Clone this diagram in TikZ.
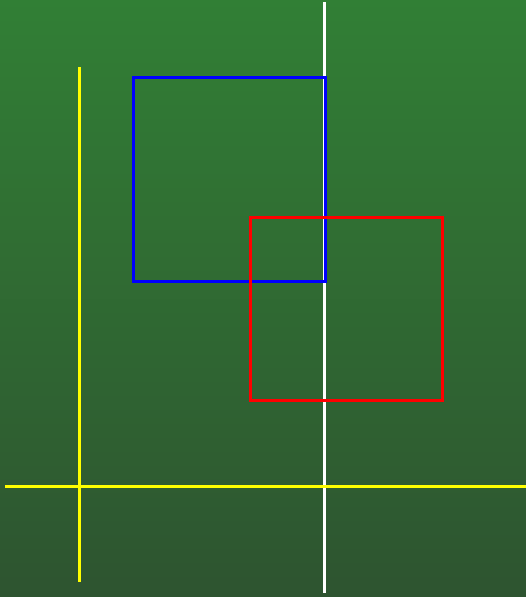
\documentclass[tikz,border=0pt]{standalone}
\definecolor{bgtop}{RGB}{49,127,53}
\definecolor{bgbot}{RGB}{46,84,48}
\definecolor{ylw}{RGB}{255,255,0}
\tikzset{
  ln/.style={line width=3pt},
  boxb/.style={ln, draw=blue, fill=none},
  boxr/.style={ln, draw=red, fill=none},
}
\begin{document}
\begin{tikzpicture}[x=1pt,y=-1pt]
\useasboundingbox (0,0) rectangle (526,597);
\shade[top color=bgtop, bottom color=bgbot] (0,0) rectangle (526,597);
\coordinate (wt) at (324,2);
\coordinate (wb) at (324,593);
\coordinate (yvt) at (79.5,67);
\coordinate (yvb) at (79.5,582);
\coordinate (yhl) at (5,486);
\coordinate (yhr) at (526,486);
\draw[ln, white] (wt) -- (wb);
\draw[ln, ylw] (yvt) -- (yvb);
\draw[ln, ylw] (yhl) -- (yhr);
\draw[boxb] (133,77) rectangle (325,281);
\draw[boxr] (250,217) rectangle (442,400);
\end{tikzpicture}
\end{document}
